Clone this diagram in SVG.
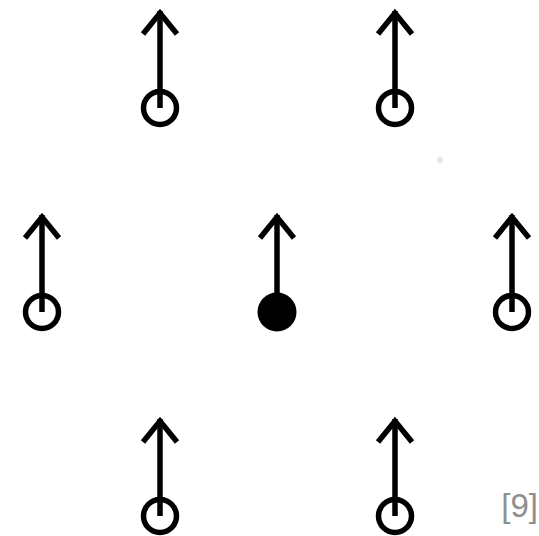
<svg xmlns="http://www.w3.org/2000/svg" width="539" height="536" viewBox="0 0 539 536">
<style>
.stem{stroke:#000;stroke-width:5.5;fill:none}
.head{stroke:#000;stroke-width:5.5;fill:none;stroke-linecap:butt;stroke-linejoin:miter}
.open{fill:#fff;stroke:#000;stroke-width:5.5}
.filled{fill:#000}
.lbl{font-family:"Liberation Sans",Arial,sans-serif;font-size:33px;fill:#8f8f8f}
</style>
<defs>
<g id="arrow">
<line class="stem" x1="0" y1="0" x2="0" y2="-97"/>
<polyline class="head" points="-17,-74 0,-95 17,-74"/>
</g>
</defs>
<g id="connectors">
<use href="#arrow" x="160" y="108"/>
<use href="#arrow" x="395" y="108"/>
<use href="#arrow" x="42" y="312"/>
<use href="#arrow" x="277" y="312"/>
<use href="#arrow" x="512" y="312"/>
<use href="#arrow" x="160" y="516"/>
<use href="#arrow" x="395" y="516"/>
</g>
<g id="n1"><circle class="open" cx="160" cy="108" r="16.5"/><line class="stem" x1="160" y1="108" x2="160" y2="91"/></g>
<g id="n2"><circle class="open" cx="395" cy="108" r="16.5"/><line class="stem" x1="395" y1="108" x2="395" y2="91"/></g>
<g id="n3"><circle class="open" cx="42" cy="312" r="16.5"/><line class="stem" x1="42" y1="312" x2="42" y2="295"/></g>
<g id="n4"><circle class="filled" cx="277" cy="312" r="19.5"/></g>
<g id="n5"><circle class="open" cx="512" cy="312" r="16.5"/><line class="stem" x1="512" y1="312" x2="512" y2="295"/></g>
<g id="n6"><circle class="open" cx="160" cy="516" r="16.5"/><line class="stem" x1="160" y1="516" x2="160" y2="499"/></g>
<g id="n7"><circle class="open" cx="395" cy="516" r="16.5"/><line class="stem" x1="395" y1="516" x2="395" y2="499"/></g>
<circle cx="440" cy="160" r="3" fill="#e6e6e6"/>
<text class="lbl" x="538" y="517" text-anchor="end">[9]</text>
</svg>
